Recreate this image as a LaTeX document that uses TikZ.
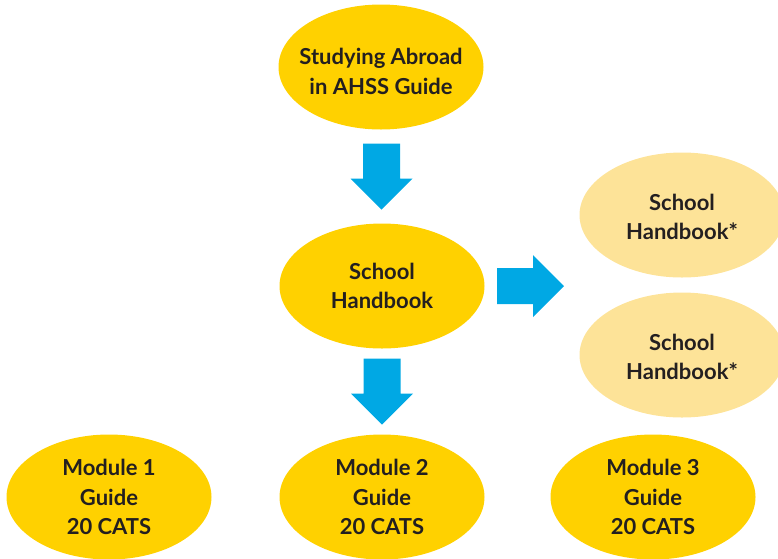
\documentclass[tikz,border=0pt]{standalone}
\usepackage{fontspec}
\setmainfont{Lato}
\usetikzlibrary{shapes.geometric,calc}
\definecolor{sunyellow}{HTML}{FFD100}
\definecolor{paleyellow}{HTML}{FDE398}
\definecolor{arrowblue}{HTML}{00A8E4}
\definecolor{inkdark}{HTML}{231F20}
\begin{document}
\begin{tikzpicture}[x=1pt,y=-1pt,
  bubble/.style={ellipse, fill=sunyellow, minimum width=205pt, minimum height=125pt,
    inner xsep=-30pt, inner ysep=0pt, align=center, text=inkdark,
    font=\fontsize{22}{29.5}\selectfont\bfseries},
  palebubble/.style={bubble, fill=paleyellow},
  downarrow/.pic={\fill[arrowblue] (-18.5,-33) -- (18.5,-33) -- (18.5,2) -- (31,2)
    -- (0,33) -- (-31,2) -- (-18.5,2) -- cycle;},
  rightarrow/.pic={\fill[arrowblue] (-33.5,-18) -- (2.5,-18) -- (2.5,-31) -- (33.5,0)
    -- (2.5,31) -- (2.5,18) -- (-33.5,18) -- cycle;}]
  \useasboundingbox (0,0) rectangle (778,558);
  \clip (0,0) rectangle (778,558);

  % guides
  \node[bubble] (guide) at (381,67) {\rule{0pt}{25pt}Studying Abroad\\in AHSS Guide};
  \node[bubble] (school) at (382,286) {School\\Handbook};
  \node[palebubble] (hbA) at (682,215) {\rule{0pt}{20pt}School\\Handbook*};
  \node[palebubble] (hbB) at (682,355) {\rule{0pt}{20pt}School\\Handbook*};

  % modules
  \node[bubble] (mod1) at (109,497) {Module 1\\Guide\\20 CATS};
  \node[bubble] (mod2) at (382,497) {Module 2\\Guide\\20 CATS};
  \node[bubble] (mod3) at (653,497) {Module 3\\Guide\\20 CATS};

  % block arrows
  \pic at ($(guide)!0.5!(school)$) {downarrow};
  \pic at ($(school)!0.5!(mod2)$) {downarrow};
  \pic at ($(school)!0.495!(school -| hbA)$) {rightarrow};
\end{tikzpicture}
\end{document}
